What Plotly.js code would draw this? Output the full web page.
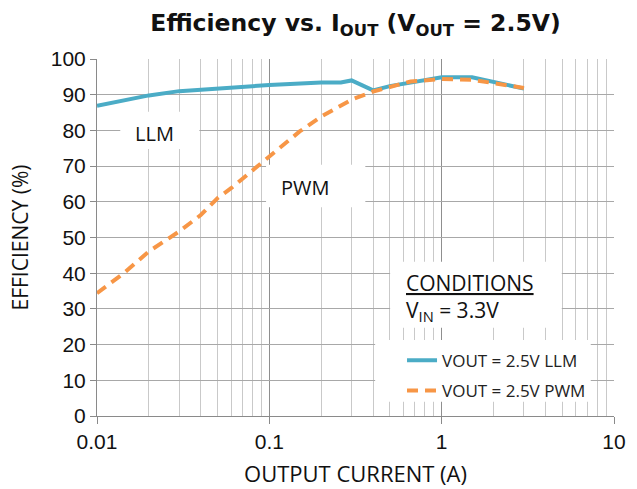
<!DOCTYPE html>
<html>
<head>
<meta charset="utf-8">
<script src="https://cdn.plot.ly/plotly-3.0.1.min.js"></script>
<style>
  html, body { margin: 0; padding: 0; background: #ffffff; }
  #chart { width: 637px; height: 489px; }
</style>
</head>
<body>
<div id="chart"></div>
<script>
// ---- Data ----
const currentLLM = [0.01, 0.02, 0.03, 0.06, 0.1, 0.2, 0.26, 0.3, 0.4, 0.5, 0.66, 1.0, 1.5, 3.0];
const effLLM     = [86.9, 89.8, 91.0, 92.1, 92.7, 93.4, 93.4, 94.0, 91.2, 92.4, 93.5, 94.9, 94.9, 91.7];

const currentPWM = [0.01, 0.0143, 0.02, 0.03, 0.04, 0.05, 0.06, 0.08, 0.1, 0.15, 0.2, 0.3, 0.4, 0.66, 1.0, 1.5, 3.0];
const effPWM     = [34.4, 40.0, 46.1, 51.7, 56.3, 61.0, 63.8, 69.0, 72.7, 79.7, 83.9, 88.6, 90.9, 93.7, 94.4, 94.2, 91.9];

const seriesNames = ['VOUT = 2.5V LLM', 'VOUT = 2.5V PWM'];
const xTickVals = [0.01, 0.1, 1, 10];
const xTickText = ['0.01', '0.1', '1', '10'];
const yTickVals = [0, 10, 20, 30, 40, 50, 60, 70, 80, 90, 100];

const titleText = '<b>Efficiency vs. I<sub>OUT</sub> (V<sub>OUT</sub> = 2.5V)</b>';
const xTitle = 'OUTPUT CURRENT (A)';
const yTitle = 'EFFICIENCY (%)';
const labelLLM = 'LLM';
const labelPWM = 'PWM';
const condTitle = '<u>CONDITIONS</u>';
const condText = 'V<sub>IN</sub> = 3.3V';

const textFont = 'Open Sans, Noto Sans, sans-serif';
const titleFont = 'DejaVu Sans, Open Sans, sans-serif';
const tickFont = 'Liberation Sans, Arial, sans-serif';

const traces = [
  {
    x: currentLLM, y: effLLM, name: seriesNames[0], type: 'scatter', mode: 'lines',
    line: { color: '#4bacc6', width: 4 }, legendgroup: 'a'
  },
  {
    x: currentPWM, y: effPWM, name: seriesNames[1], type: 'scatter', mode: 'lines',
    line: { color: '#f79646', width: 4, dash: '11px,7px' }, legendgroup: 'b'
  }
];

const whiteBox = (x0, x1, y0, y1) => ({
  type: 'rect', xref: 'paper', yref: 'paper', x0: x0, x1: x1, y0: y0, y1: y1,
  fillcolor: '#ffffff', line: { width: 0 }, layer: 'above'
});

const layout = {
  width: 637, height: 489,
  margin: { l: 97, r: 23, t: 59, b: 73 },
  paper_bgcolor: '#ffffff', plot_bgcolor: '#ffffff',
  title: {
    text: titleText, x: 0.5, xref: 'paper', y: 0.953, yref: 'container', yanchor: 'middle',
    font: { family: titleFont, size: 23.5, color: '#111111' }
  },
  showlegend: true,
  legend: {
    x: 0.59, xanchor: 'left', y: 0.205, yanchor: 'top',
    bgcolor: 'rgba(0,0,0,0)', borderwidth: 0,
    font: { family: textFont, size: 17, color: '#222222' },
    traceorder: 'grouped', tracegroupgap: 5
  },
  xaxis: {
    type: 'log', range: [-2, 1],
    tickvals: xTickVals, ticktext: xTickText,
    showgrid: true, gridcolor: '#8f8f8f', gridwidth: 1,
    minor: { dtick: 'D1', showgrid: true, gridcolor: '#c9c9c9', gridwidth: 1, ticks: '' },
    showline: true, linecolor: '#8a8a8a', linewidth: 1,
    ticks: 'outside', ticklen: 7, tickcolor: '#8a8a8a',
    zeroline: false,
    tickfont: { family: tickFont, size: 21, color: '#111111' },
    title: { text: xTitle, standoff: 14, font: { family: textFont, size: 22, color: '#111111' } }
  },
  yaxis: {
    range: [0, 100], tickvals: yTickVals,
    showgrid: true, gridcolor: '#a8a8a8', gridwidth: 1,
    showline: true, linecolor: '#8a8a8a', linewidth: 1,
    ticks: 'outside', ticklen: 6, tickcolor: '#8a8a8a',
    zeroline: false,
    tickfont: { family: tickFont, size: 21, color: '#111111' },
    title: { text: yTitle, standoff: 16, font: { family: textFont, size: 21, color: '#111111' } }
  },
  shapes: [
    whiteBox(0.045, 0.198, 0.748, 0.852),
    whiteBox(0.327, 0.519, 0.585, 0.704),
    whiteBox(0.567, 0.899, 0.247, 0.432),
    whiteBox(0.538, 0.955, 0.04, 0.213)
  ],
  annotations: [
    { text: labelLLM, x: Math.log10(0.0217), y: 79.2, xref: 'x', yref: 'y', showarrow: false,
      font: { family: textFont, size: 20, color: '#111111' } },
    { text: labelPWM, x: Math.log10(0.1613), y: 64, xref: 'x', yref: 'y', showarrow: false,
      font: { family: textFont, size: 20, color: '#111111' } },
    { text: condTitle, x: 0.594, y: 0.373, xref: 'paper', yref: 'paper', xanchor: 'left', yanchor: 'middle',
      showarrow: false, font: { family: textFont, size: 21, color: '#111111' } },
    { text: condText, x: 0.594, y: 0.294, xref: 'paper', yref: 'paper', xanchor: 'left', yanchor: 'middle',
      showarrow: false, font: { family: textFont, size: 21, color: '#111111' } }
  ]
};

Plotly.newPlot('chart', traces, layout, { displayModeBar: false, staticPlot: true });
</script>
</body>
</html>
